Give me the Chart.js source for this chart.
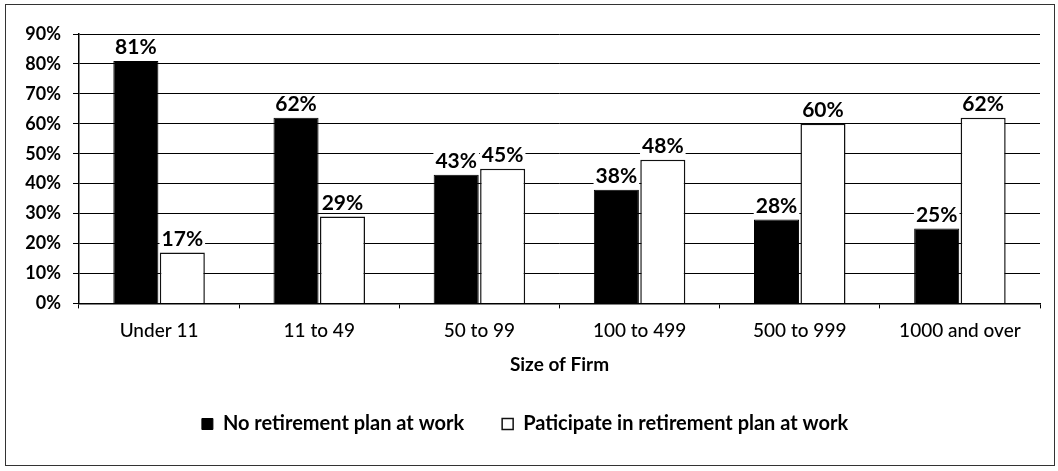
<!DOCTYPE html>
<html>
<head>
<meta charset="utf-8">
<script src="https://cdn.jsdelivr.net/npm/chart.js@4.4.1/dist/chart.umd.min.js"></script>
<style>
  html, body { margin: 0; padding: 0; background: #fff; }
  #wrap { position: relative; width: 1058px; height: 471px; }
  #frame { position: absolute; left: 5px; top: 4px; width: 1050px; height: 462px; border: 1px solid #333; box-sizing: border-box; }
  canvas { position: absolute; left: 0; top: 0; }
</style>
</head>
<body>
<div id="wrap">
  <div id="frame"></div>
  <canvas id="firmChart" width="1058" height="471"></canvas>
</div>
<script>
const categories = ["Under 11", "11 to 49", "50 to 99", "100 to 499", "500 to 999", "1000 and over"];
const noPlan = [81, 62, 43, 38, 28, 25];
const participate = [17, 29, 45, 48, 60, 62];
const yTicks = [0, 10, 20, 30, 40, 50, 60, 70, 80, 90];

// Draw value labels above bars on a white background
const valueLabels = {
  id: "valueLabels",
  afterDatasetsDraw(chart) {
    const ctx = chart.ctx;
    ctx.save();
    ctx.font = "bold 21px Lato";
    ctx.textAlign = "center";
    ctx.textBaseline = "bottom";
    chart.data.datasets.forEach(function (ds, i) {
      chart.getDatasetMeta(i).data.forEach(function (bar, j) {
        const text = ds.data[j] + "%";
        const w = ctx.measureText(text).width;
        const y = bar.y - 4;
        ctx.fillStyle = "#fff";
        ctx.fillRect(bar.x - w / 2 - 2, y - 18, w + 4, 18);
        ctx.fillStyle = "#000";
        ctx.fillText(text, bar.x, y + 1);
      });
    });
    ctx.restore();
  },
};

const ctx = document.getElementById("firmChart").getContext("2d");
new Chart(ctx, {
  type: "bar",
  data: {
    labels: categories,
    datasets: [
      {
        label: "No retirement plan at work",
        data: noPlan,
        backgroundColor: "#000",
        borderColor: "#000",
        borderWidth: 1,
      },
      {
        label: "Paticipate in retirement plan at work",
        data: participate,
        backgroundColor: "#fff",
        borderColor: "#111",
        borderWidth: 1.5,
      },
    ],
  },
  options: {
    responsive: false,
    animation: false,
    layout: { padding: { top: 34, left: 10, right: 18, bottom: 27 } },
    datasets: {
      bar: { categoryPercentage: 0.58, barPercentage: 0.97 },
    },
    scales: {
      x: {
        grid: { drawOnChartArea: false, drawTicks: true, tickLength: 5, color: "#000" },
        border: { color: "#000", width: 1.5 },
        ticks: { color: "#000", font: { family: "Lato", size: 19, weight: 500 }, padding: 11 },
        title: {
          display: true,
          text: "Size of Firm",
          color: "#000",
          font: { family: "Lato", size: 19, weight: "bold" },
          padding: { top: 0, bottom: 0 },
        },
      },
      y: {
        min: 0,
        max: 90,
        afterBuildTicks(scale) {
          scale.ticks = yTicks.map(function (v) { return { value: v }; });
        },
        afterFit(scale) { scale.width = 69; },
        grid: { color: "#000", lineWidth: 1, tickLength: 6 },
        border: { color: "#000", width: 1.5 },
        ticks: {
          color: "#000",
          font: { family: "Lato", size: 18, weight: "bold" },
          padding: 12,
          callback: function (v) { return v + "%"; },
        },
      },
    },
    plugins: {
      legend: {
        position: "bottom",
        labels: {
          color: "#000",
          font: { family: "Lato", size: 20, weight: "bold" },
          boxWidth: 11,
          boxHeight: 11,
          padding: 38,
        },
      },
      tooltip: { enabled: false },
    },
  },
  plugins: [valueLabels],
});
</script>
</body>
</html>
